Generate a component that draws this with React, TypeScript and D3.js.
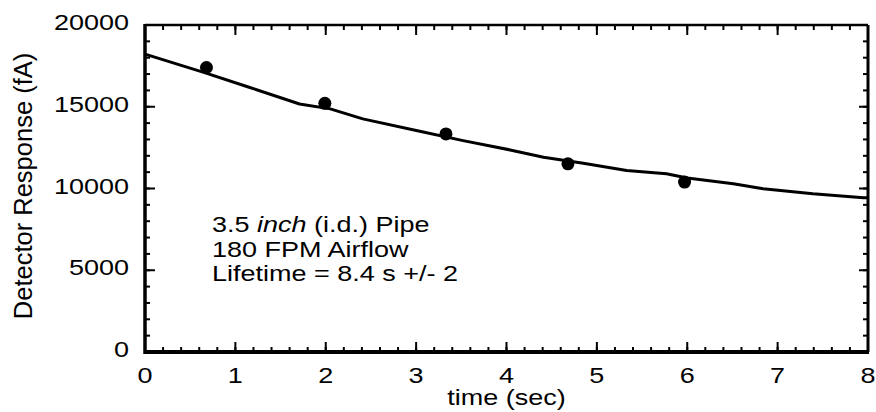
import React from "react";
import * as d3 from "d3";

const pointTimes = [0.68, 1.99, 3.33, 4.68, 5.97];
const pointValues = [17400, 15210, 13340, 11510, 10390];

const fitTimes = [0, 0.65, 1.16, 1.71, 2.05, 2.41, 3.04, 3.52, 4.04, 4.41, 4.85, 5.33, 5.77, 6.0, 6.51, 6.84, 7.39, 7.95, 8.0];
const fitValues = [18220, 17100, 16180, 15170, 14870, 14260, 13500, 12930, 12360, 11910, 11550, 11100, 10900, 10640, 10290, 9985, 9680, 9440, 9430];

const xTickLabels = [0, 1, 2, 3, 4, 5, 6, 7, 8];
const yTickLabels = [0, 5000, 10000, 15000, 20000];

const annotationLines = ["3.5 inch (i.d.) Pipe", "180 FPM Airflow", "Lifetime = 8.4 s +/- 2"];

const W = 876, H = 412;
const L = 145, R = 868, T = 25, B = 352;

export default function App() {
  const x = d3.scaleLinear().domain([0, 8]).range([L, R]);
  const y = d3.scaleLinear().domain([0, 20000]).range([B, T]);
  const xMinor = d3.range(0, 8.001, 0.2);
  const yMinor = d3.range(0, 20001, 1000);
  const line = d3.line<number>().x((_, i) => x(fitTimes[i])).y((_, i) => y(fitValues[i])).curve(d3.curveLinear);
  const font = "'Liberation Sans', Arial, Helvetica, sans-serif";
  const sy = 0.8;
  return (
    <svg width={W} height={H} style={{ position: "absolute", left: 0, top: 0, background: "#fff" }} fontFamily={font}>
      {xMinor.map((t, i) => (
        <g key={"xm" + i}>
          <line x1={x(t)} x2={x(t)} y1={B} y2={B - 5} stroke="#000" strokeWidth={2} />
          <line x1={x(t)} x2={x(t)} y1={T} y2={T + 5} stroke="#000" strokeWidth={2} />
        </g>
      ))}
      {yMinor.map((v, i) => (
        <g key={"ym" + i}>
          <line x1={L} x2={L + 5} y1={y(v)} y2={y(v)} stroke="#000" strokeWidth={2} />
          <line x1={R} x2={R - 5} y1={y(v)} y2={y(v)} stroke="#000" strokeWidth={2} />
        </g>
      ))}
      {xTickLabels.map((t) => (
        <g key={"xt" + t}>
          <line x1={x(t)} x2={x(t)} y1={B} y2={B - 10} stroke="#000" strokeWidth={2} />
          <line x1={x(t)} x2={x(t)} y1={T} y2={T + 10} stroke="#000" strokeWidth={2} />
          <text transform={`translate(${x(t)},${B + 31}) scale(1,${sy})`} textAnchor="middle" fontSize={27} fill="#000">{t}</text>
        </g>
      ))}
      {yTickLabels.map((v) => (
        <g key={"yt" + v}>
          <line x1={L} x2={L + 10} y1={y(v)} y2={y(v)} stroke="#000" strokeWidth={2} />
          <line x1={R} x2={R - 9} y1={y(v)} y2={y(v)} stroke="#000" strokeWidth={2} />
          <text transform={`translate(${L - 16},${y(v) + 5}) scale(1,${sy})`} textAnchor="end" fontSize={27} fill="#000">{v}</text>
        </g>
      ))}
      <line x1={L} x2={R} y1={T} y2={T} stroke="#000" strokeWidth={2.5} />
      <line x1={R} x2={R} y1={T} y2={B} stroke="#000" strokeWidth={3} />
      <line x1={L} x2={L} y1={T - 1} y2={B + 2} stroke="#000" strokeWidth={3.5} />
      <line x1={L - 1} x2={R + 1} y1={B} y2={B} stroke="#000" strokeWidth={4} />
      <path d={line(fitTimes) || ""} fill="none" stroke="#000" strokeWidth={3} strokeLinejoin="round" />
      {pointTimes.map((t, i) => (
        <circle key={"p" + i} cx={x(t)} cy={y(pointValues[i])} r={6.5} fill="#000" />
      ))}
      {annotationLines.map((s, i) => (
        <text key={"a" + i} transform={`translate(212,${232 + i * 24.5}) scale(1,${sy})`} fontSize={27} fill="#000">
          {i === 0 ? (
            <>
              {"3.5 "}
              <tspan fontStyle="italic">inch</tspan>
              {" (i.d.) Pipe"}
            </>
          ) : s}
        </text>
      ))}
      <text transform={`translate(${x(4)},${405}) scale(1,${sy})`} textAnchor="middle" fontSize={27} fill="#000">time (sec)</text>
      <text transform={`translate(32,186) rotate(-90)`} textAnchor="middle" fontSize={25.5} fill="#000">Detector Response (fA)</text>
    </svg>
  );
}
